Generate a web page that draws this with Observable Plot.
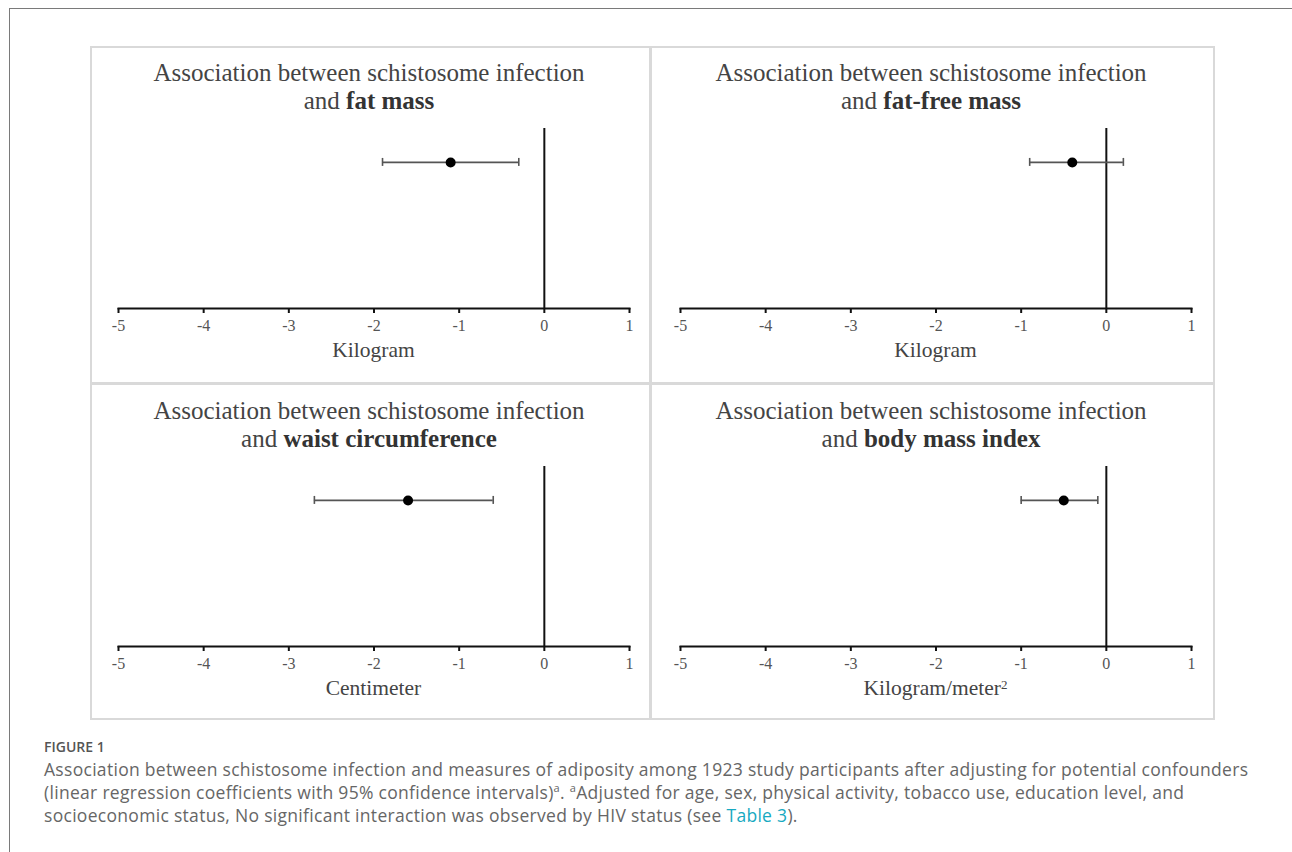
<!DOCTYPE html>
<html><head><meta charset="utf-8">
<script src="https://cdn.jsdelivr.net/npm/d3@7"></script>
<script src="https://cdn.jsdelivr.net/npm/@observablehq/plot@0.6"></script>
<style>
html,body{margin:0;padding:0;background:#fff;}
body{width:1292px;height:852px;overflow:hidden;position:relative;}
#frame{position:absolute;left:9px;top:8px;width:1400px;height:900px;border:1.5px solid #7a7a7a;box-sizing:border-box;}
#box{position:absolute;left:90px;top:46px;width:1125px;height:674px;border:2px solid #d9d9d9;box-sizing:border-box;}
.vdiv{position:absolute;left:649px;top:46px;width:3px;height:674px;background:#d9d9d9;}
.hdiv{position:absolute;left:90px;top:382px;width:1125px;height:3px;background:#d9d9d9;}
.title{position:absolute;width:562px;text-align:center;font-family:"Liberation Serif","Times New Roman",serif;font-size:25px;line-height:28px;color:#444;}
.title b{color:#333;}
.xlab{position:absolute;width:511px;text-align:center;font-family:"Liberation Serif","Times New Roman",serif;font-size:21.5px;color:#444;}
.xlab sup{font-size:13px;vertical-align:6px;line-height:0;}
.plot{position:absolute;}
#caption{position:absolute;left:44px;top:736px;font-family:"Open Sans",sans-serif;color:#666;}
#caption .fig{font-size:14px;font-weight:600;color:#555;line-height:22px;}
#caption .txt{font-size:17.5px;letter-spacing:0.3px;line-height:23px;white-space:nowrap;}
#caption sup{font-size:11px;vertical-align:7px;line-height:0;}
#caption a{color:#17a9c1;text-decoration:none;}
</style>
</head><body>
<div id="frame"></div>
<div id="box"></div>
<div class="vdiv"></div>
<div class="hdiv"></div>
<div id="caption">
<div class="fig">FIGURE 1</div>
<div class="txt">Association between schistosome infection and measures of adiposity among 1923 study participants after adjusting for potential confounders<br>(linear regression coefficients with 95% confidence intervals)<sup>a</sup>. <sup>a</sup>Adjusted for age, sex, physical activity, tobacco use, education level, and<br>socioeconomic status, No significant interaction was observed by HIV status (see <a>Table 3</a>).</div>
</div>
<script>
// ---- data ----
const measures = ["fat mass", "fat-free mass", "waist circumference", "body mass index"];
const estimates = [-1.1, -0.4, -1.6, -0.5];
const lower = [-1.9, -0.9, -2.7, -1.0];
const upper = [-0.3, 0.2, -0.6, -0.1];
const units = ["Kilogram", "Kilogram", "Centimeter", "Kilogram/meter<sup>2</sup>"];
const xTicks = [-5, -4, -3, -2, -1, 0, 1];
const titlePrefix = "Association between schistosome infection";

// ---- layout ----
const panelLeft = [90, 652, 90, 652];
const panelTop = [46, 46, 384, 384];

measures.forEach((m, i) => {
  const row = [{measure: m, est: estimates[i], lo: lower[i], hi: upper[i]}];
  const chart = Plot.plot({
    width: 562,
    height: 225,
    marginLeft: 28,
    marginRight: 23,
    marginTop: 10,
    marginBottom: 35,
    style: {background: "transparent", overflow: "visible", fontSize: "16px",
      fontFamily: "'Liberation Serif', 'Times New Roman', serif"},
    x: {domain: [-5, 1], ticks: xTicks},
    y: {type: "band", domain: [m], padding: 0.915, align: 0.174, round: false, axis: null},
    marks: [
      Plot.frame({anchor: "bottom", stroke: "#111", strokeWidth: 2}),
      Plot.axisX({ticks: xTicks, tickSize: 5, tickPadding: 6, tickFormat: d => String(d),
        fontSize: 16, stroke: "#111", strokeWidth: 2, fill: "#555", label: null}),
      Plot.ruleX([0], {stroke: "#111", strokeWidth: 2}),
      Plot.ruleY(row, {x1: "lo", x2: "hi", y: "measure", stroke: "#555", strokeWidth: 1.6}),
      Plot.tickX(row, {x: "lo", y: "measure", stroke: "#555", strokeWidth: 1.6}),
      Plot.tickX(row, {x: "hi", y: "measure", stroke: "#555", strokeWidth: 1.6}),
      Plot.dot(row, {x: "est", y: "measure", r: 5, fill: "#000", stroke: "none"})
    ]
  });
  chart.classList.add("plot");
  chart.style.left = panelLeft[i] + "px";
  chart.style.top = (panelTop[i] + 72) + "px";
  document.body.appendChild(chart);

  const t = document.createElement("div");
  t.className = "title";
  t.style.left = (panelLeft[i] - 2) + "px";
  t.style.top = (panelTop[i] + 13) + "px";
  t.innerHTML = titlePrefix + "<br>and <b>" + m + "</b>";
  document.body.appendChild(t);

  const xl = document.createElement("div");
  xl.className = "xlab";
  xl.style.left = (panelLeft[i] + 28) + "px";
  xl.style.top = (panelTop[i] + 292) + "px";
  xl.innerHTML = units[i];
  document.body.appendChild(xl);
});
</script>
</body></html>
